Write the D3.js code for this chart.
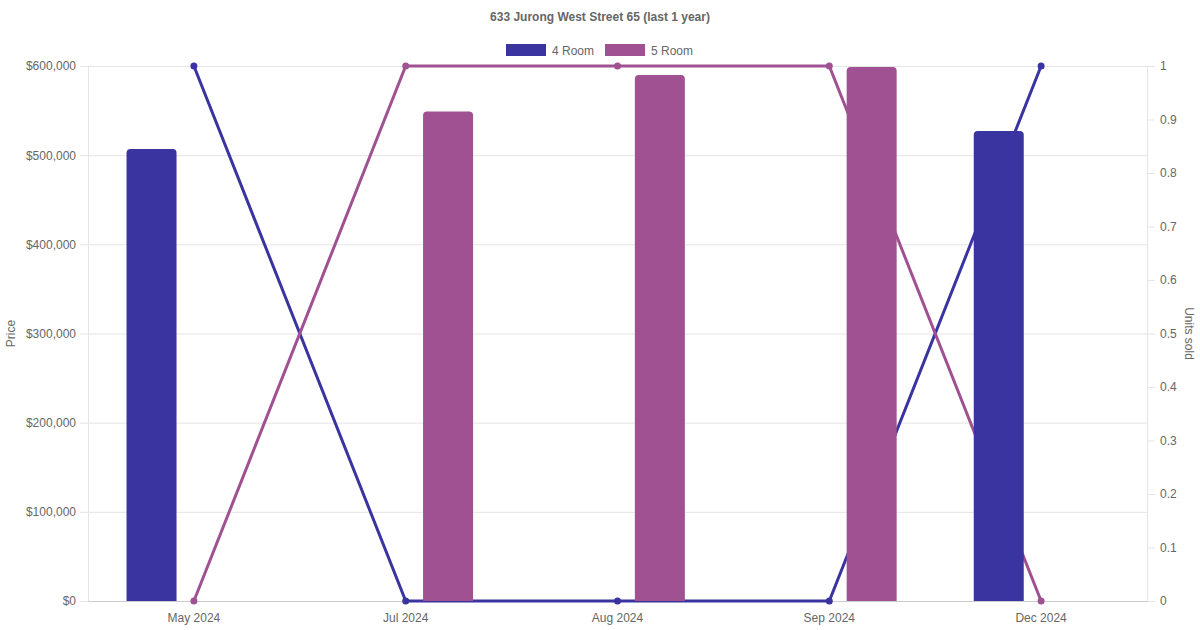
<!DOCTYPE html>
<html><head><meta charset="utf-8">
<script src="https://cdn.jsdelivr.net/npm/d3@7"></script>
<style>body{margin:0;background:#fff}svg{display:block;font-family:"Liberation Sans",Arial,sans-serif}</style>
</head><body><svg id="c" width="1200" height="630"></svg>
<script>
const title = "633 Jurong West Street 65 (last 1 year)";
const categories = ["May 2024","Jul 2024","Aug 2024","Sep 2024","Dec 2024"];
const seriesNames = ["4 Room","5 Room"];
const colors = ["#3a34a0","#a05192"];
const price4 = [507000, null, null, null, 527000];
const price5 = [null, 549000, 590000, 599000, null];
const units4 = [1, 0, 0, 0, 1];
const units5 = [0, 1, 1, 1, 0];
const priceTicks = [0,100000,200000,300000,400000,500000,600000];
const unitTicks = [0,0.1,0.2,0.3,0.4,0.5,0.6,0.7,0.8,0.9,1];

const svg = d3.select("#c");
const L=88,R=1147,T=66,B=601;
const x = d3.scaleBand().domain(categories).range([L,R]);
const slot = d3.scaleBand().domain(seriesNames).range([0,x.bandwidth()]).paddingInner(0).paddingOuter(0.25);
const yL = d3.scaleLinear().domain([0,600000]).range([B,T]);
const yR = d3.scaleLinear().domain([0,1]).range([B,T]);
const grid="#e5e5e5", txt="#666";

// grid + left axis
const gl = svg.append("g").attr("transform",`translate(${L},0)`)
  .call(d3.axisLeft(yL).tickValues(priceTicks).tickSize(8).tickSizeOuter(0).tickPadding(4).tickFormat(d=>"$"+d3.format(",")(d)));
gl.select(".domain").attr("stroke",grid);
gl.selectAll(".tick line").attr("stroke",grid).attr("x2",R-L);
gl.selectAll(".tick line").attr("x1",-8);
gl.selectAll("text").attr("fill",txt).attr("font-size",12);

const gr = svg.append("g").attr("transform",`translate(${R},0)`)
  .call(d3.axisRight(yR).tickValues(unitTicks).tickSize(8).tickSizeOuter(0).tickPadding(5).tickFormat(d=>d3.format("")(d)));
gr.select(".domain").attr("stroke",grid);
gr.selectAll(".tick line").attr("stroke",grid);
gr.selectAll("text").attr("fill",txt).attr("font-size",12);

const gx = svg.append("g").attr("transform",`translate(0,${B})`)
  .call(d3.axisBottom(x).tickSize(0).tickPadding(12));
gx.select(".domain").attr("stroke","#ccc");
gx.selectAll("text").attr("fill",txt).attr("font-size",12);

// axis titles
svg.append("text").attr("transform",`translate(15,${(T+B)/2}) rotate(-90)`).attr("text-anchor","middle")
  .attr("fill",txt).attr("font-size",12).text("Price");
svg.append("text").attr("transform",`translate(1185,${(T+B)/2}) rotate(90)`).attr("text-anchor","middle")
  .attr("fill",txt).attr("font-size",12).text("Units sold");

// lines
const units=[units4,units5];
units.forEach((u,i)=>{
  const line=d3.line().x((d,j)=>x(categories[j])+x.bandwidth()/2).y(d=>yR(d));
  svg.append("path").datum(u).attr("d",line).attr("fill","none").attr("stroke",colors[i]).attr("stroke-width",3);
  svg.selectAll(null).data(u).enter().append("circle")
    .attr("cx",(d,j)=>x(categories[j])+x.bandwidth()/2).attr("cy",d=>yR(d)).attr("r",3.5).attr("fill",colors[i]);
});

// bars
const bw=50, rr=4;
function barPath(x0,y0,w,h){
  return `M${x0},${y0+h}V${y0+rr}Q${x0},${y0} ${x0+rr},${y0}H${x0+w-rr}Q${x0+w},${y0} ${x0+w},${y0+rr}V${y0+h}Z`;
}
[price4,price5].forEach((p,i)=>{
  p.forEach((v,j)=>{
    if(v==null) return;
    const cx = x(categories[j])+slot(seriesNames[i])+slot.bandwidth()/2;
    const y0=yL(v);
    svg.append("path").attr("d",barPath(cx-bw/2,y0,bw,B-y0)).attr("fill",colors[i]);
  });
});

// title
svg.append("text").attr("x",600).attr("y",21).attr("text-anchor","middle").attr("font-weight","bold")
  .attr("font-size",12).attr("fill",txt).text(title);

// legend
const lg=[{x:506},{x:605}];
seriesNames.forEach((n,i)=>{
  svg.append("rect").attr("x",lg[i].x).attr("y",44).attr("width",40).attr("height",12).attr("fill",colors[i]);
  svg.append("text").attr("x",lg[i].x+46).attr("y",54.5).attr("font-size",12).attr("fill",txt).text(n);
});
</script></body></html>
